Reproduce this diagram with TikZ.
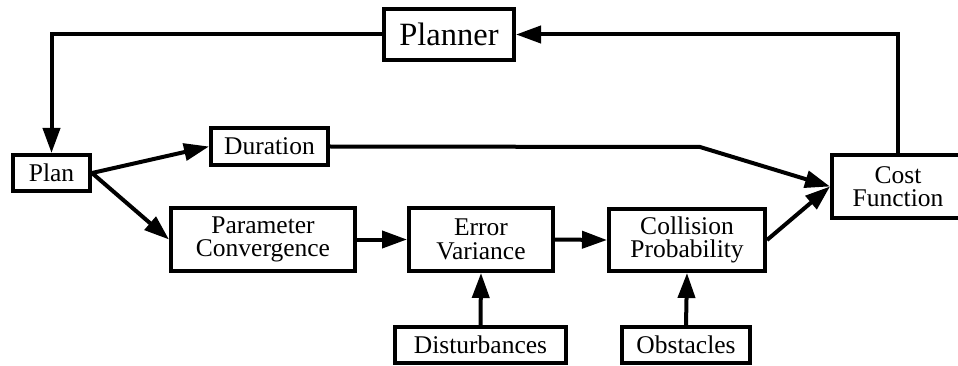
\documentclass[tikz,border=0pt]{standalone}
\usepackage{fontspec}
\setmainfont{Liberation Serif}
\newfontfamily\boxfont{Liberation Serif}
\usetikzlibrary{arrows.meta}
\tikzset{
  blk/.style={draw, line width=4pt, inner sep=0pt, align=center, fill=white,
    font=\boxfont\fontsize{25.5pt}{23.5pt}\selectfont},
  arr/.style={line width=4pt, -{Triangle[length=25pt,width=17pt]}},
}
\begin{document}
\begin{tikzpicture}[x=1pt,y=-1pt]
\useasboundingbox (0,0) rectangle (958,366);
\node[blk, minimum width=130pt, minimum height=51pt, font=\boxfont\fontsize{32.5pt}{34pt}\selectfont] (planner) at (449,34.5) {Planner};
\node[blk, minimum width=77pt, minimum height=36pt] (plan) at (51.5,173) {Plan};
\node[blk, minimum width=117pt, minimum height=37pt] (dur) at (269.5,146.5) {Duration};
\node[blk, minimum width=184pt, minimum height=63pt] (param) at (263,239.5) {Parameter\\Convergence};
\node[blk, minimum width=144pt, minimum height=63pt] (err) at (481,239.5) {Error\\Variance};
\node[blk, minimum width=156pt, minimum height=62pt] (coll) at (687,240) {Collision\\Probability};
\node[blk, minimum width=171pt, minimum height=36pt] (dist) at (480.5,345) {Disturbances};
\node[blk, minimum width=128pt, minimum height=36pt] (obst) at (686,345) {Obstacles};
\node[blk, minimum width=132pt, minimum height=63pt] (cost) at (898,186.5) {Cost\\Function};
\coordinate (bend) at (700,147);
\draw[arr] (planner.west) -| (plan.north);
\draw[arr] (cost.north) |- (planner.east);
\draw[arr] (plan.east) -- (dur.west);
\draw[arr] (plan.east) -- (param.west);
\draw[arr] (dur.east) -- (bend) -- (cost.west);
\draw[arr] (param.east) -- (err.west);
\draw[arr] (err.east) -- (coll.west);
\draw[arr] (coll.east) -- (cost.west);
\draw[arr] (dist.north) -- (err.south);
\draw[arr] (obst.north) -- (coll.south);
\end{tikzpicture}
\end{document}
